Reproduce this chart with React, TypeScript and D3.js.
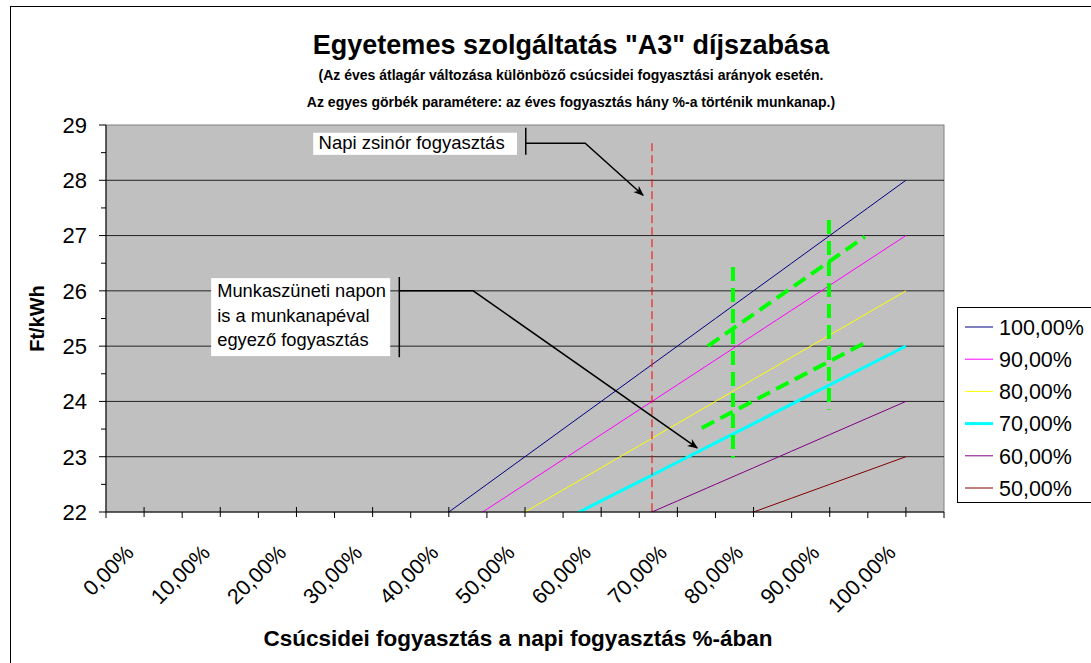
import * as d3 from 'd3'

// category axis (peak share of daily consumption, %)
const categories = [0, 5, 10, 15, 20, 25, 30, 35, 40, 45, 50, 55, 60, 65, 70, 75, 80, 85, 90, 95, 100]
const tickLabels = ['0,00%', '10,00%', '20,00%', '30,00%', '40,00%', '50,00%', '60,00%', '70,00%', '80,00%', '90,00%', '100,00%']
const labelValues = [0, 10, 20, 30, 40, 50, 60, 70, 80, 90, 100]
const yTicks = [22, 23, 24, 25, 26, 27, 28, 29]

const seriesNames = ['100,00%', '90,00%', '80,00%', '70,00%', '60,00%', '50,00%']
const seriesColors = ['#000080', '#FF00FF', '#FFFF00', '#00FFFF', '#800080', '#800000']
const seriesWidths = [1, 1, 1, 3, 1, 1]

const s100 = [18, 18.5, 19, 19.5, 20, 20.5, 21, 21.5, 22, 22.5, 23, 23.5, 24, 24.5, 25, 25.5, 26, 26.5, 27, 27.5, 28]
const s90 = [18, 18.45, 18.9, 19.35, 19.8, 20.25, 20.7, 21.15, 21.6, 22.05, 22.5, 22.95, 23.4, 23.85, 24.3, 24.75, 25.2, 25.65, 26.1, 26.55, 27]
const s80 = [18, 18.4, 18.8, 19.2, 19.6, 20, 20.4, 20.8, 21.2, 21.6, 22, 22.4, 22.8, 23.2, 23.6, 24, 24.4, 24.8, 25.2, 25.6, 26]
const s70 = [18, 18.35, 18.7, 19.05, 19.4, 19.75, 20.1, 20.45, 20.8, 21.15, 21.5, 21.85, 22.2, 22.55, 22.9, 23.25, 23.6, 23.95, 24.3, 24.65, 25]
const s60 = [18, 18.3, 18.6, 18.9, 19.2, 19.5, 19.8, 20.1, 20.4, 20.7, 21, 21.3, 21.6, 21.9, 22.2, 22.5, 22.8, 23.1, 23.4, 23.7, 24]
const s50 = [18, 18.25, 18.5, 18.75, 19, 19.25, 19.5, 19.75, 20, 20.25, 20.5, 20.75, 21, 21.25, 21.5, 21.75, 22, 22.25, 22.5, 22.75, 23]
const seriesValues = [s100, s90, s80, s70, s60, s50]

// drawn annotations, in data units [pct, Ft/kWh]
const baseLoadLine = [[66.67, 28.67], [66.67, 22]]
const greenVerticals = [
  [[77.3, 26.43], [77.3, 22.98]],
  [[89.9, 27.28], [89.9, 23.85]],
]
const greenDiagonals = [
  [[74.0, 25.0], [94.6, 26.98]],
  [[73.2, 23.52], [94.6, 25.06]],
]

const font = 'Liberation Sans, Arial, sans-serif'

export default function App() {
  const width = 1091
  const height = 663
  const left = 106, right = 944, top = 125, bottom = 512

  const x = d3.scaleLinear().domain([-5, 105]).range([left, right])
  const y = d3.scaleLinear().domain([22, 29]).range([bottom, top])
  const line = d3.line<number[]>().x(d => x(d[0])).y(d => y(d[1]))

  const minorX = d3.range(-5, 106, 10)
  const minorY = d3.range(22.5, 29, 1)

  return (
    <svg width={width} height={height} style={{ position: 'absolute', left: 0, top: 0, background: '#fff' }} fontFamily={font}>
      <defs>
        <clipPath id="plot">
          <rect x={left} y={top} width={right - left} height={bottom - top} />
        </clipPath>
        <marker id="arr" viewBox="0 0 10 10" refX="9" refY="5" markerWidth="7" markerHeight="7" orient="auto">
          <path d="M0,1 L10,5 L0,9 L3,5 Z" fill="#000" />
        </marker>
      </defs>
      <rect x={10.5} y={6.5} width={1200} height={800} fill="#fff" stroke="#000" />

      {/* titles */}
      <text x={571} y={54} textAnchor="middle" fontWeight="bold" fontSize={27}>Egyetemes szolgáltatás "A3" díjszabása</text>
      <text x={571} y={80} textAnchor="middle" fontWeight="bold" fontSize={14}>(Az éves átlagár változása különböző csúcsidei fogyasztási arányok esetén.</text>
      <text x={571} y={107} textAnchor="middle" fontWeight="bold" fontSize={14}>Az egyes görbék paramétere: az éves fogyasztás hány %-a történik munkanap.)</text>

      {/* plot area */}
      <rect x={left} y={top} width={right - left} height={bottom - top} fill="#C0C0C0" stroke="#808080" />
      {yTicks.slice(1, -1).map(t => (
        <line key={t} x1={left} x2={right} y1={y(t)} y2={y(t)} stroke="#222" />
      ))}

      <g clipPath="url(#plot)">
        {seriesValues.map((vals, i) => (
          <path key={i} d={line(categories.map((c, j) => [c, vals[j]])) || ''} fill="none"
            stroke={seriesColors[i]} strokeWidth={seriesWidths[i]} />
        ))}
      </g>

      {/* annotations */}
      <path d={line(baseLoadLine) || ''} stroke="#FF0000" strokeDasharray="8,4" fill="none" />
      {greenVerticals.concat(greenDiagonals).map((seg, i) => (
        <path key={i} d={line(seg) || ''} stroke="#00FF00" strokeWidth={4} strokeDasharray="14,7" fill="none" />
      ))}

      {/* callout: Napi zsinór fogyasztás */}
      <rect x={x(22.2)} y={y(28.86)} width={x(48.95) - x(22.2)} height={y(28.46) - y(28.86)} fill="#fff" />
      <text x={x(22.9)} y={y(28.56)} fontSize={18.5}>Napi zsinór fogyasztás</text>
      <line x1={x(50.1)} x2={x(50.1)} y1={y(28.95)} y2={y(28.46)} stroke="#000" strokeWidth={1.5} />
      <path d={line([[50.1, 28.67], [57.9, 28.67], [65.5, 27.73]]) || ''} fill="none" stroke="#000" strokeWidth={1.5} markerEnd="url(#arr)" />

      {/* callout: Munkaszüneti napon */}
      <rect x={x(8.8)} y={y(26.23)} width={x(32.3) - x(8.8)} height={y(24.82) - y(26.23)} fill="#fff" />
      <g fontSize={18.3}>
        <text x={x(9.6)} y={y(25.88)}>Munkaszüneti napon</text>
        <text x={x(9.6)} y={y(25.44)}>is a munkanapéval</text>
        <text x={x(9.6)} y={y(25.01)}>egyező fogyasztás</text>
      </g>
      <line x1={x(33.5)} x2={x(33.5)} y1={y(26.25)} y2={y(24.8)} stroke="#000" strokeWidth={1.5} />
      <path d={line([[33.5, 26], [43.2, 26], [72.6, 23.16]]) || ''} fill="none" stroke="#000" strokeWidth={1.5} markerEnd="url(#arr)" />

      {/* y axis */}
      <line x1={left} x2={left} y1={top} y2={bottom} stroke="#000" />
      {yTicks.map(t => (
        <g key={t}>
          <line x1={left - 7} x2={left} y1={y(t)} y2={y(t)} stroke="#000" />
          <text x={87} y={y(t)} dy="0.36em" textAnchor="end" fontSize={22}>{t}</text>
        </g>
      ))}
      {minorY.map(t => (
        <line key={t} x1={left - 5} x2={left} y1={y(t)} y2={y(t)} stroke="#000" />
      ))}
      <text transform={`translate(44,${(top + bottom) / 2}) rotate(-90)`} textAnchor="middle" fontWeight="bold" fontSize={20}>Ft/kWh</text>

      {/* x axis */}
      <line x1={left} x2={right} y1={bottom} y2={bottom} stroke="#000" />
      {labelValues.map(v => (
        <line key={v} x1={x(v)} x2={x(v)} y1={bottom - 5} y2={bottom + 5} stroke="#000" />
      ))}
      {minorX.map(v => (
        <line key={v} x1={x(v)} x2={x(v)} y1={bottom} y2={bottom + 6} stroke="#000" />
      ))}
      {labelValues.map((v, i) => (
        <text key={v} transform={`translate(${x(v) - 9},${bottom + 42}) rotate(-45)`} textAnchor="end" fontSize={21.5}>{tickLabels[i]}</text>
      ))}
      <text x={518} y={646} textAnchor="middle" fontWeight="bold" fontSize={22.5}>Csúcsidei fogyasztás a napi fogyasztás %-ában</text>

      {/* legend */}
      <rect x={957.5} y={307.5} width={200} height={195} fill="#fff" stroke="#000" />
      {seriesNames.map((name, i) => {
        const ly = 327 + i * 32.2
        return (
          <g key={name}>
            <line x1={965} x2={993} y1={ly} y2={ly} stroke={seriesColors[i]} strokeWidth={seriesWidths[i]} />
            <text x={999} y={ly} dy="0.36em" fontSize={21.5}>{name}</text>
          </g>
        )
      })}
    </svg>
  )
}
